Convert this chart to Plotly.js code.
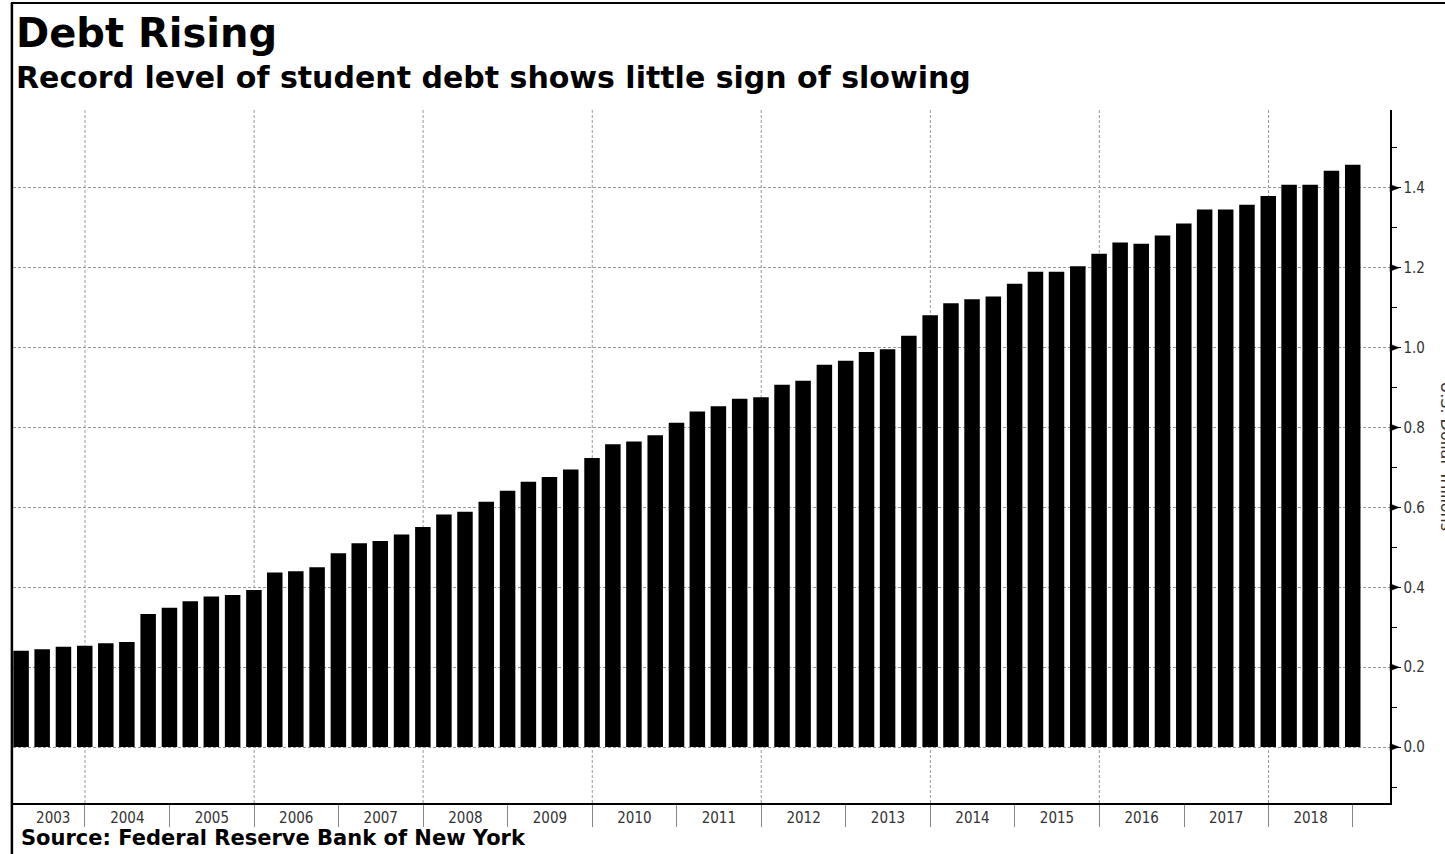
<!DOCTYPE html>
<html>
<head>
<meta charset="utf-8">
<script src="https://cdn.plot.ly/plotly-3.0.1.min.js"></script>
<style>html,body{margin:0;padding:0;background:#fff;}#chart{width:1445px;height:854px;}</style>
</head>
<body>
<div id="chart"></div>
<script>
// ---- data ----
var years = [2003,2004,2005,2006,2007,2008,2009,2010,2011,2012,2013,2014,2015,2016,2017,2018];
var quarterEnds = ['03-31','06-30','09-30','12-31'];
var debt = [
  0.241, 0.245, 0.251, 0.254,
  0.260, 0.263, 0.333, 0.349,
  0.365, 0.377, 0.381, 0.393,
  0.437, 0.440, 0.450, 0.485,
  0.510, 0.516, 0.532, 0.551,
  0.582, 0.589, 0.614, 0.642,
  0.664, 0.676, 0.695, 0.724,
  0.758, 0.765, 0.781, 0.812,
  0.840, 0.853, 0.872, 0.876,
  0.907, 0.917, 0.957, 0.967,
  0.989, 0.996, 1.030, 1.081,
  1.111, 1.121, 1.128, 1.160,
  1.190, 1.190, 1.204, 1.235,
  1.263, 1.260, 1.281, 1.311,
  1.346, 1.346, 1.358, 1.380,
  1.408, 1.408, 1.443, 1.458
];
var yearLabels = years.map(String);
var yTickVals = [0, 0.2, 0.4, 0.6, 0.8, 1.0, 1.2, 1.4];
var yTickLabels = ['0.0','0.2','0.4','0.6','0.8','1.0','1.2','1.4'];
var gridYears = [2004, 2006, 2008, 2010, 2012, 2014, 2016, 2018];

// ---- derived ----
var dates = [];
years.forEach(function(y){ quarterEnds.forEach(function(q){ dates.push(y + '-' + q); }); });
var labelDates = years.map(function(y, i){ return i === 0 ? y + '-08-17' : y + '-07-02'; });
var boundaries = years.map(function(y){ return (y + 1) + '-01-01'; });

var tickFont = {family: 'DejaVu Sans Condensed, DejaVu Sans, sans-serif', size: 15, color: '#333'};

var trace = {
  type: 'bar',
  x: dates,
  y: debt,
  width: 67 * 86400000,
  marker: {color: '#000', line: {width: 0}},
  hoverinfo: 'x+y'
};

var shapes = gridYears.map(function(y){
  return {type: 'line', xref: 'x', yref: 'paper', x0: y + '-01-01', x1: y + '-01-01', y0: 0, y1: 1,
          line: {color: '#999', width: 1, dash: '3px,2px'}, layer: 'below'};
});
// outer frame (left and top)
shapes.push({type: 'line', xref: 'paper', yref: 'paper', x0: -0.0008, x1: -0.0008, y0: -0.08, y1: 1.1544,
             line: {color: '#000', width: 2.5}});
shapes.push({type: 'line', xref: 'paper', yref: 'paper', x0: -0.0015, x1: 1.05, y0: 1.1544, y1: 1.1544,
             line: {color: '#000', width: 2}});
// triangular tick markers on the right axis
yTickVals.forEach(function(v){
  shapes.push({type: 'path', xref: 'paper', yref: 'y', xsizemode: 'pixel', ysizemode: 'pixel',
               xanchor: 1, yanchor: v, path: 'M0,3.5 L9,0 L0,-3.5 Z',
               fillcolor: '#000', line: {color: '#000', width: 0.5}});
});

var annotations = [
  {xref: 'paper', yref: 'paper', x: 0.0005, y: 1.1104, xanchor: 'left', yanchor: 'middle', showarrow: false,
   text: '<b>Debt Rising</b>', font: {family: 'DejaVu Sans, sans-serif', size: 40, color: '#000'}},
  {xref: 'paper', yref: 'paper', x: 0.0005, y: 1.0468, xanchor: 'left', yanchor: 'middle', showarrow: false,
   text: '<b>Record level of student debt shows little sign of slowing</b>', font: {family: 'DejaVu Sans, sans-serif', size: 30, color: '#000'}},
  {xref: 'paper', yref: 'paper', x: 0.0040, y: -0.0505, xanchor: 'left', yanchor: 'middle', showarrow: false,
   text: '<b>Source: Federal Reserve Bank of New York</b>', font: {family: 'DejaVu Sans, sans-serif', size: 21, color: '#000'}},
  {xref: 'paper', yref: 'paper', x: 1.0407, y: 0.5, xanchor: 'center', yanchor: 'middle', showarrow: false, textangle: 90,
   text: 'U.S. Dollar Trillions', font: {family: 'DejaVu Sans, sans-serif', size: 16, color: '#333'}}
];

var layout = {
  width: 1445, height: 854,
  margin: {l: 13, r: 55, t: 110, b: 51, pad: 0},
  paper_bgcolor: '#fff', plot_bgcolor: '#fff',
  showlegend: false,
  xaxis: {
    type: 'date',
    range: ['2003-02-24', '2019-06-10'],
    tickmode: 'array', tickvals: labelDates, ticktext: yearLabels,
    ticks: '', showgrid: false, zeroline: false,
    showline: true, linecolor: '#000', linewidth: 1.5,
    tickfont: tickFont, ticklabelstandoff: 0,
    minor: {tickmode: 'array', tickvals: boundaries, ticks: 'outside', ticklen: 22, tickcolor: '#888', tickwidth: 1, showgrid: false},
    fixedrange: true
  },
  yaxis: {
    side: 'right',
    range: [-0.14, 1.595],
    tickmode: 'array', tickvals: yTickVals, ticktext: yTickLabels,
    ticks: 'outside', ticklen: 9, tickcolor: '#000', tickwidth: 1,
    showline: true, linecolor: '#000', linewidth: 1.5,
    showgrid: true, gridcolor: '#999', gridwidth: 1, griddash: '3px,2px',
    zeroline: false,
    minor: {tickmode: 'linear', tick0: 0, dtick: 0.1, ticks: 'outside', ticklen: 5, tickcolor: '#000', tickwidth: 1, showgrid: false},
    tickfont: {family: 'DejaVu Sans Condensed, DejaVu Sans, sans-serif', size: 15, color: '#333'},
    fixedrange: true
  },
  shapes: shapes,
  annotations: annotations
};

Plotly.newPlot('chart', [trace], layout, {displayModeBar: false, staticPlot: true});
</script>
</body>
</html>
